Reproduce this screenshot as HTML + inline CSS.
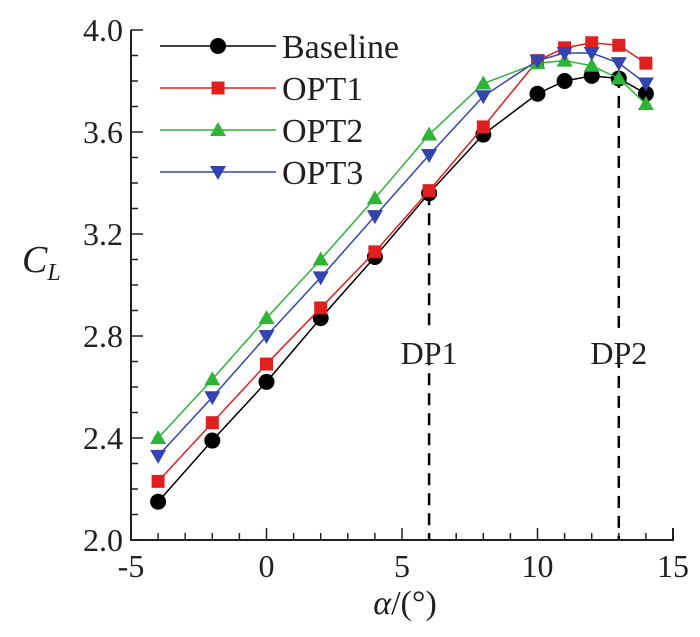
<!DOCTYPE html>
<html><head><meta charset="utf-8"><style>
body{margin:0;background:#fff}
svg text{font-family:"Liberation Serif","DejaVu Serif",serif;fill:#231f20}
</style></head><body>
<svg width="700" height="632" id="c" font-family="Liberation Serif, DejaVu Serif, serif"></svg>
<script>
const alphas=[-4,-2,0,2,4,6,8,10,11,12,13,14];
const baseline=[2.15,2.39,2.62,2.87,3.11,3.36,3.59,3.75,3.80,3.82,3.81,3.75];
const opt1=[2.23,2.46,2.69,2.91,3.13,3.37,3.62,3.88,3.93,3.95,3.94,3.87];
const opt2=[2.40,2.63,2.87,3.10,3.34,3.59,3.79,3.87,3.88,3.86,3.81,3.71];
const opt3=[2.33,2.56,2.80,3.03,3.27,3.51,3.74,3.88,3.91,3.91,3.87,3.79];
const xTicks=[-5,0,5,10,15];
const yTicks=[2.0,2.4,2.8,3.2,3.6,4.0];
const dpX=[6,13];
const dpLabels=["DP1","DP2"];
const NS="http://www.w3.org/2000/svg";
const svg=document.getElementById('c');
const X=a=>131+27.1*(a+5);
const Y=v=>540-255*(v-2);
const FF="Liberation Serif, DejaVu Serif, serif";
function el(t,a,p){const e=document.createElementNS(NS,t);for(const k in a)e.setAttribute(k,a[k]);if(t==='text')e.setAttribute('font-family',FF);(p||svg).appendChild(e);return e;}
let ax=el('path',{d:`M${X(-5)},${Y(4)} V${Y(2)} H${X(15)} V${Y(2)-12}`,stroke:'#231f20','stroke-width':2,fill:'none'});


for(let a=-5;a<=15;a++){const maj=a%5===0;el('line',{x1:X(a),x2:X(a),y1:Y(2),y2:Y(2)-(maj?12:7),stroke:'#231f20','stroke-width':1.5});}
for(let i=0;i<=20;i++){const v=2+i*0.1;const maj=i%4===0;el('line',{x1:X(-5),x2:X(-5)+(maj?12:7),y1:Y(v),y2:Y(v),stroke:'#231f20','stroke-width':1.5});}
xTicks.forEach(t=>{const e=el('text',{x:X(t),y:577,'font-size':32,'text-anchor':'middle'});e.textContent=t;

});
yTicks.forEach(t=>{const e=el('text',{x:X(-5)-8,y:Y(t)+11,'font-size':32,'text-anchor':'end'});e.textContent=t.toFixed(1);

});
dpX.forEach((d,i)=>{const yTop=i===0?Y(baseline[5]):Y(3.82);
const l=el('line',{x1:X(d),x2:X(d),y1:yTop,y2:Y(2),stroke:'#000','stroke-width':2.5,'stroke-dasharray':'12,8'});


el('rect',{x:X(d)-40,y:333,width:80,height:30,fill:'#fff'});
const t=el('text',{x:X(d),y:364,'font-size':32,'text-anchor':'middle'});t.textContent=dpLabels[i];

});
function marker(type,x,y,c,g){
 if(type==='c')el('circle',{cx:x,cy:y,r:8,fill:c},g);
 else if(type==='s')el('rect',{x:x-6.5,y:y-6.5,width:13,height:13,fill:c},g);
 else if(type==='u')el('path',{d:`M${x},${y-8} L${x+8},${y+6} L${x-8},${y+6}Z`,fill:c},g);
 else el('path',{d:`M${x},${y+8} L${x+8},${y-6} L${x-8},${y-6}Z`,fill:c},g);}
const series=[[baseline,'#000','c','Baseline'],[opt1,'#e0201f','s','OPT1'],[opt2,'#2db336','u','OPT2'],[opt3,'#3344b0','d','OPT3']];
el('rect',{x:155,y:22,width:270,height:170,fill:'#fff'});
series.forEach((s,k)=>{const [vals,c,m,name]=s;
 const g=el('g',{});
 
 
 el('polyline',{points:alphas.map((a,i)=>X(a)+','+Y(vals[i])).join(' '),fill:'none',stroke:c,'stroke-width':1.5},g);
 alphas.forEach((a,i)=>marker(m,X(a),Y(vals[i]),c,g));
 const ly=46+k*42;
 const lg=el('g',{});
 
 
 el('line',{x1:160,x2:276,y1:ly,y2:ly,stroke:c,'stroke-width':1.5},lg);
 marker(m,218,ly,c,lg);
 const t=el('text',{x:282,y:ly+12,'font-size':34},lg);t.textContent=name;
});
const yl=el('text',{x:22,y:272,'font-size':38,'font-style':'italic'});yl.innerHTML='C<tspan font-size="24" dy="8">L</tspan>';


const xl=el('text',{x:405,y:614,'font-size':34,'text-anchor':'middle'});xl.innerHTML='<tspan font-style="italic">α</tspan>/(°)';


</script>
</body></html>
